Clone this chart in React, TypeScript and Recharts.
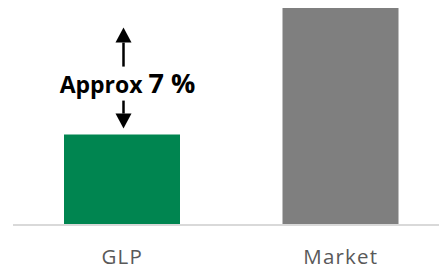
import { BarChart, Bar, XAxis, YAxis, Cell, LabelList } from 'recharts';

// bar chart: GLP vs Market
const categories = ['GLP', 'Market'];
const values = [5, 12];
const barColors = ['#008550', '#7f7f7f'];
const annotationTitle = 'Approx';
const annotationValue = '7 %';

const data = categories.map((name, i) => ({ name, value: values[i] }));

const Tick = (props: any) => {
  const { x, y, payload } = props;
  return (
    <text
      x={x}
      y={y + 39}
      textAnchor="middle"
      fill="#595959"
      fontSize={20.5}
      letterSpacing={1.2}
      fontFamily="'Open Sans', sans-serif"
    >
      {payload.value}
    </text>
  );
};

// double arrow + text drawn above the GLP bar
const Annotation = (props: any) => {
  const { x, y, width, index } = props;
  if (index !== 0) return null;
  const cx = x + width / 2 + 1.5;
  const downTip = y - 6;
  const downTop = y - 34;
  const upBottom = y - 68;
  const upTip = y - 107;
  const head = 15;
  return (
    <g>
      <line x1={cx} y1={upBottom} x2={cx} y2={upTip + head} stroke="#000" strokeWidth={2.5} />
      <polygon points={`${cx},${upTip} ${cx - 8},${upTip + head} ${cx + 8},${upTip + head}`} fill="#000" />
      <line x1={cx} y1={downTop} x2={cx} y2={downTip - head} stroke="#000" strokeWidth={2.5} />
      <polygon points={`${cx},${downTip} ${cx - 8},${downTip - head} ${cx + 8},${downTip - head}`} fill="#000" />
      <text
        x={cx + 4}
        y={y - 42}
        textAnchor="middle"
        fill="#000"
        fontWeight="bold"
        fontFamily="'Open Sans', sans-serif"
      >
        <tspan fontSize={23}>{annotationTitle} </tspan>
        <tspan fontSize={27}>{annotationValue}</tspan>
      </text>
    </g>
  );
};

export default function App() {
  return (
    <div style={{ position: 'absolute', left: 0, top: 0, width: 439, height: 270, overflow: 'hidden', background: '#fff' }}>
      <BarChart width={450} height={270} data={data} margin={{ top: 8, right: 0, bottom: 0, left: 13 }}>
        <XAxis
          dataKey="name"
          axisLine={{ stroke: '#d9d9d9', strokeWidth: 2 }}
          tickLine={false}
          tickSize={0}
          tickMargin={0}
          height={45}
          tick={<Tick />}
          interval={0}
        />
        <YAxis hide domain={[0, 12]} />
        <Bar dataKey="value" barSize={116} isAnimationActive={false}>
          {data.map((d, i) => (
            <Cell key={d.name} fill={barColors[i]} />
          ))}
          <LabelList dataKey="value" content={<Annotation />} />
        </Bar>
      </BarChart>
    </div>
  );
}
